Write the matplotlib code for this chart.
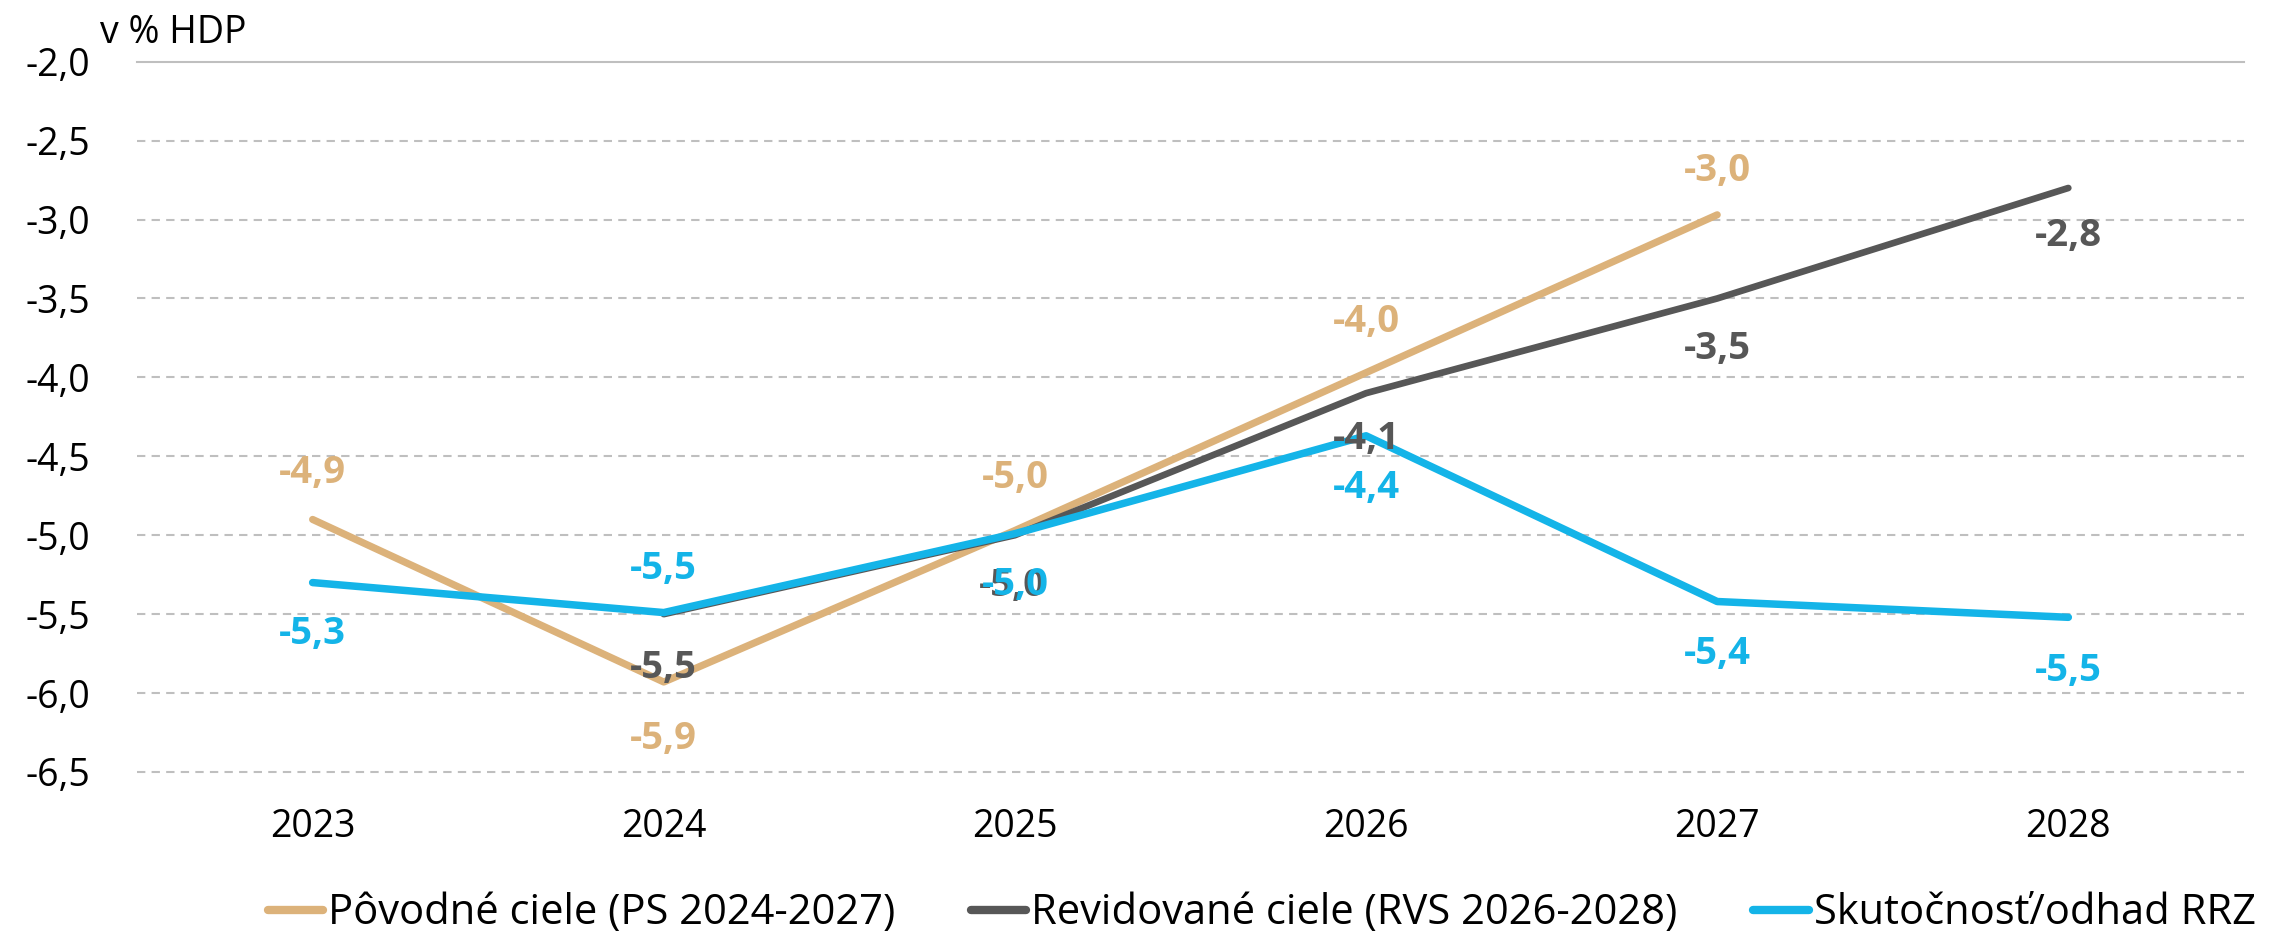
import numpy as np
import matplotlib
matplotlib.use("Agg")
import matplotlib.pyplot as plt

plt.rcParams['font.family'] = ['Open Sans', 'DejaVu Sans']

years = ['2023', '2024', '2025', '2026', '2027', '2028']
povodne = [-4.90, -5.93, -4.97, -3.97, -2.97, np.nan]
revidovane = [np.nan, -5.50, -5.00, -4.10, -3.50, -2.80]
skutocnost = [-5.30, -5.49, -4.99, -4.37, -5.42, -5.52]
series_names = ['Pôvodné ciele (PS 2024-2027)',
                'Revidované ciele (RVS 2026-2028)',
                'Skutočnosť/odhad RRZ']
y_ticks = [-2.0, -2.5, -3.0, -3.5, -4.0, -4.5, -5.0, -5.5, -6.0, -6.5]
y_unit = 'v % HDP'

colors = ['#DCB27A', '#575757', '#14B4E8']
# label offsets in pixels (positive = up)
offsets = [
    [46, -57, 52, 51, 44, None],
    [None, -54, -48, -46, -51, -48],
    [-51, 44, -51, -52, -52, -54],
]
shadow = [None, (-3, -3), None]

fig = plt.figure(figsize=(22.73, 9.31), dpi=100)
ax = fig.add_axes([0.0603, 0.1708, 0.9872 - 0.0603, 0.9337 - 0.1708])

x = np.arange(len(years))
data = [povodne, revidovane, skutocnost]
lws = [5.2, 4.8, 5.4]
for i, (vals, c, name) in enumerate(zip(data, colors, series_names)):
    ax.plot(x, vals, color=c, lw=lws[i], solid_capstyle='round',
            solid_joinstyle='round', label=name, zorder=3 + i)

for i, (vals, c) in enumerate(zip(data, colors)):
    for j, v in enumerate(vals):
        if np.isnan(v) or offsets[i][j] is None:
            continue
        dx, dy = 0, 0
        if shadow[i] is not None and j == 2:
            dx, dy = shadow[i]
        txt = f"{v:.1f}".replace('.', ',')
        ax.annotate(txt, (x[j], v), xytext=(dx, offsets[i][j] + dy),
                    textcoords='offset pixels', ha='center', va='center',
                    color=c, fontsize=27.5, fontweight='bold', zorder=10 + i)

ax.set_xlim(-0.5, len(years) - 0.5)
ax.set_ylim(-6.5, -2.0)
ax.set_xticks(x)
ax.set_xticklabels(years)
ax.set_yticks(y_ticks)
ax.set_yticklabels([f"{t:.1f}".replace('.', ',') for t in y_ticks])
ax.tick_params(axis='both', length=0, labelsize=27, colors='black')
ax.tick_params(axis='y', pad=34)
ax.tick_params(axis='x', pad=26)

for s in ['left', 'right', 'bottom', 'top']:
    ax.spines[s].set_visible(False)
for t in y_ticks:
    if t == -2.0:
        ax.axhline(t, color='#BFBFBF', lw=1.5, zorder=1, clip_on=False)
    else:
        ax.axhline(t, color='#BFBFBF', lw=1.5, ls=(0, (4, 3)), zorder=1, clip_on=False)

fig.text(100 / 2273, 1 - 43 / 931, y_unit, fontsize=27, va='baseline', ha='left')

leg = fig.legend(loc='center', bbox_to_anchor=(0.555, 0.019), ncol=3,
                 frameon=False, fontsize=30, handlelength=1.34,
                 handletextpad=0.12, columnspacing=1.8, borderpad=0)
for line in leg.get_lines():
    line.set_linewidth(6)
    line.set_solid_capstyle('round')

fig.savefig('out.png', dpi=100)
